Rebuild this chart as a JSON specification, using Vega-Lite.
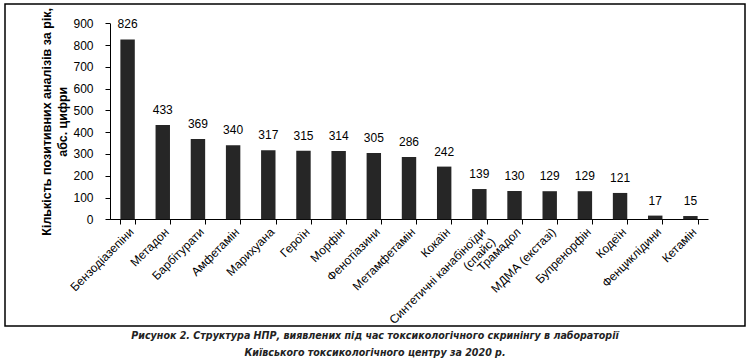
{
  "$schema": "https://vega.github.io/schema/vega-lite/v6.json",
  "width": 740,
  "height": 322,
  "padding": {"left": 4, "top": 4, "right": 4, "bottom": 2},
  "autosize": {"type": "pad"},
  "background": "white",
  "title": {
    "text": ["Рисунок 2. Структура НПР, виявлених під час токсикологічного скринінгу в лабораторії", "Київського токсикологічного центру за 2020 р."],
    "orient": "bottom",
    "anchor": "middle",
    "font": "DejaVu Sans Condensed, Liberation Sans",
    "fontStyle": "italic",
    "fontWeight": "bold",
    "fontSize": 10.6,
    "lineHeight": 17,
    "offset": -5,
    "color": "#222222"
  },
  "data": {
    "values": [
      {"drug": "Бензодіазепіни", "count": 826},
      {"drug": "Метадон", "count": 433},
      {"drug": "Барбітурати", "count": 369},
      {"drug": "Амфетамін", "count": 340},
      {"drug": "Марихуана", "count": 317},
      {"drug": "Героїн", "count": 315},
      {"drug": "Морфін", "count": 314},
      {"drug": "Фенотіазини", "count": 305},
      {"drug": "Метамфетамін", "count": 286},
      {"drug": "Кокаїн", "count": 242},
      {"drug": "Синтетичні канабіноїди (спайс)", "count": 139},
      {"drug": "Трамадол", "count": 130},
      {"drug": "МДМА (екстазі)", "count": 129},
      {"drug": "Бупренорфін", "count": 129},
      {"drug": "Кодеїн", "count": 121},
      {"drug": "Фенциклідини", "count": 17},
      {"drug": "Кетамін", "count": 15}
    ]
  },
  "encoding": {
    "x": {
      "field": "drug",
      "type": "nominal",
      "sort": null,
      "scale": {"range": [105, 703], "paddingInner": 0.59, "paddingOuter": 0.295},
      "axis": {
        "title": null,
        "offset": -107,
        "labelAngle": -45,
        "labelAlign": "right",
        "labelBaseline": "top",
        "labelFont": "Liberation Sans",
        "labelFontSize": 12,
        "labelColor": "#000000",
        "labelPadding": 2,
        "labelOverlap": false,
        "labelLineHeight": 14,
        "labelExpr": "datum.label == 'Синтетичні канабіноїди (спайс)' ? ['Синтетичні канабіноїди', '(спайс)'] : datum.label",
        "tickBand": "extent",
        "tickSize": 5,
        "tickColor": "#000000",
        "domainColor": "#000000",
        "grid": false
      }
    },
    "y": {
      "field": "count",
      "type": "quantitative",
      "scale": {"domain": [0, 900], "range": [215.3, 19.3], "nice": false},
      "axis": {
        "title": ["Кількість позитивних аналізів за рік,", "абс. цифри"],
        "titleFont": "Liberation Sans",
        "titleFontSize": 12.5,
        "titleFontWeight": "bold",
        "titleColor": "#000000",
        "titleLineHeight": 16,
        "titlePadding": 3,
        "offset": -105,
        "values": [0, 100, 200, 300, 400, 500, 600, 700, 800, 900],
        "labelFont": "Liberation Sans",
        "labelFontSize": 12,
        "labelColor": "#000000",
        "labelPadding": 12,
        "tickSize": 5,
        "tickColor": "#000000",
        "domainColor": "#000000",
        "grid": false
      }
    }
  },
  "layer": [
    {"mark": {"type": "bar", "color": "#262626"}},
    {
      "mark": {"type": "text", "baseline": "alphabetic", "align": "center", "dy": -11, "font": "Liberation Sans", "fontSize": 12, "color": "#000000"},
      "encoding": {"text": {"field": "count", "type": "quantitative"}}
    }
  ],
  "config": {
    "view": {"stroke": "#000000", "strokeWidth": 1.5}
  }
}
